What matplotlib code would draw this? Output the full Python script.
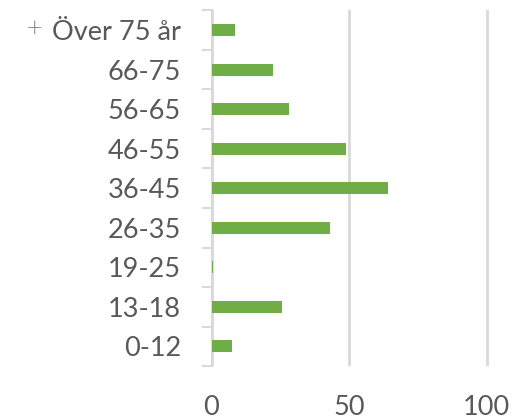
import matplotlib
matplotlib.use("Agg")
import matplotlib.pyplot as plt
import numpy as np

categories = ["Över 75 år", "66-75", "56-65", "46-55", "36-45", "26-35", "19-25", "13-18", "0-12"]
values = [8.5, 22.5, 28, 49, 64, 43, 0.7, 25.5, 7.5]
xticks = [0, 50, 100]

W, H = 513, 419
fig = plt.figure(figsize=(W / 100, H / 100), dpi=100)
x0, x100 = 211.5, 486.5
xmax = 102
xr = x0 + (x100 - x0) * xmax / 100
ytop, ybot = 10.5, 366
ax = fig.add_axes([x0 / W, 1 - ybot / H, (xr - x0) / W, (ybot - ytop) / H])

n = len(categories)
pos = np.arange(n)[::-1]
ax.barh(pos, values, height=0.3, color="#70ad47", zorder=3)
ax.set_ylim(-0.5, n - 0.5)
ax.set_xlim(0, xmax)

font = "Lato"
txtc = "#595959"
gridc = "#d9d9d9"
ax.set_yticks(pos)
ax.set_yticklabels(categories, fontsize=19.5, color=txtc, family=font)
ax.set_yticks(np.arange(n + 1) - 0.5, minor=True)
ax.tick_params(axis="y", which="major", length=0, pad=22)
ax.tick_params(axis="y", which="minor", length=7, width=1.5, color=gridc)
ax.set_xticks(xticks)
ax.set_xticklabels([str(t) for t in xticks], fontsize=19.5, color=txtc, family=font)
ax.tick_params(axis="x", length=0, pad=21)
ax.xaxis.grid(True, color=gridc, linewidth=2, zorder=0)
for s in ["top", "right", "bottom"]:
    ax.spines[s].set_visible(False)
ax.spines["left"].set_color(gridc)
ax.spines["left"].set_linewidth(1.5)
ax.set_axisbelow(True)

fig.text(35 / W, 1 - 28 / H, "+", fontsize=15, color="#7f7f7f", ha="center", va="center",
         family="DejaVu Sans", fontweight="light")

fig.savefig("out.png", dpi=100)
